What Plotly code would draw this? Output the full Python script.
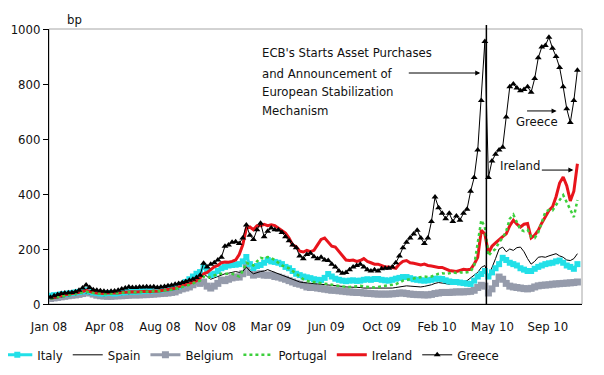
import pandas as pd
import plotly.graph_objects as go

dates = pd.date_range("2008-01-04", periods=149, freq="7D")

greece = [25, 30, 35, 38, 40, 41, 42, 45, 50, 58,
          69, 60, 52, 50, 48, 46, 45, 46, 47, 50,
          55, 58, 62, 60, 60, 62, 62, 63, 62, 63,
          60, 62, 64, 66, 68, 72, 75, 78, 82, 86,
          90, 96, 105, 148, 135, 145, 150, 160, 170, 210,
          215, 225, 226, 220, 240, 287, 250, 235, 270, 294,
          245, 265, 276, 270, 269, 260, 245, 230, 215, 205,
          175, 165, 180, 185, 172, 165, 170, 160, 158, 145,
          135, 120, 112, 115, 125, 135, 140, 145, 135, 125,
          120, 125, 120, 128, 130, 130, 135, 150, 175, 205,
          225, 240, 255, 268, 240, 220, 240, 300, 389, 350,
          330, 310, 330, 300, 320, 305, 330, 345, 410, 460,
          560, 740, 955, 460, 520, 545, 560, 570, 680, 790,
          800, 785, 775, 780, 790, 770, 820, 895, 935, 940,
          970, 930, 900, 860, 790, 710, 660, 740, 850]

ireland = [22, 25, 28, 30, 33, 35, 38, 40, 42, 45,
           50, 45, 42, 40, 38, 38, 40, 40, 38, 40,
           42, 43, 45, 45, 44, 45, 46, 46, 45, 47,
           46, 48, 50, 52, 54, 57, 62, 66, 70, 75,
           80, 85, 95, 110, 115, 125, 135, 140, 150, 153,
           152, 155, 160, 180, 215, 275, 280, 270, 285, 285,
           290, 285, 288, 285, 275, 265, 258, 240, 215, 208,
           192, 189, 195, 190, 195, 215, 235, 240, 225, 210,
           207, 190, 175, 160, 158, 160, 155, 158, 165, 155,
           150, 145, 145, 140, 135, 135, 133, 130, 145, 155,
           158, 150, 148, 145, 142, 145, 140, 138, 135, 133,
           133, 128, 122, 120, 118, 122, 126, 125, 126, 145,
           170, 268, 255, 185, 210, 222, 235, 245, 255, 285,
           305, 290, 280, 290, 293, 240, 250, 268, 295, 317,
           340, 353, 390, 440, 462, 430, 375, 410, 510]

portugal = [20, 22, 25, 27, 30, 33, 35, 38, 40, 42,
            45, 42, 40, 38, 36, 36, 37, 38, 38, 40,
            40, 42, 44, 44, 43, 44, 45, 45, 45, 46,
            46, 47, 48, 50, 52, 55, 58, 62, 66, 70,
            75, 80, 85, 100, 95, 100, 105, 108, 110, 110,
            112, 110, 105, 100, 120, 150, 145, 140, 155, 168,
            165, 171, 168, 160, 150, 140, 135, 130, 120, 110,
            100, 90, 85, 80, 80, 78, 75, 72, 72, 70,
            68, 66, 64, 62, 62, 63, 65, 66, 64, 62,
            60, 60, 62, 64, 65, 66, 68, 72, 78, 85,
            88, 90, 92, 95, 98, 100, 98, 100, 105, 110,
            112, 110, 112, 115, 113, 115, 113, 115, 118, 140,
            230, 305, 280, 175, 190, 200, 225, 240, 265, 310,
            325, 300, 270, 265, 270, 245, 240, 260, 300, 335,
            342, 340, 360, 380, 396, 370, 342, 316, 378]

italy = [30, 32, 33, 35, 36, 38, 40, 42, 44, 46,
         50, 45, 42, 40, 38, 38, 40, 40, 38, 40,
         42, 43, 45, 44, 45, 46, 47, 48, 48, 50,
         50, 52, 55, 57, 60, 62, 65, 70, 80, 90,
         100, 110, 116, 135, 120, 105, 110, 120, 130, 135,
         140, 142, 143, 145, 155, 171, 145, 131, 138, 142,
         150, 160, 155, 153, 150, 145, 135, 130, 120, 110,
         105, 100, 97, 94, 90, 88, 87, 95, 109, 100,
         92, 88, 85, 83, 85, 86, 84, 85, 88, 90,
         88, 91, 91, 88, 86, 85, 88, 92, 95, 98,
         98, 94, 90, 88, 86, 85, 86, 88, 92, 92,
         91, 86, 82, 80, 80, 78, 76, 74, 73, 85,
         100, 109, 120, 100, 115, 130, 145, 168, 160, 150,
         145, 140, 130, 125, 120, 120, 128, 135, 140, 145,
         148, 150, 155, 158, 150, 140, 135, 128, 145]

spain = [18, 20, 22, 24, 26, 28, 30, 32, 34, 36,
         40, 36, 34, 32, 30, 30, 32, 32, 30, 32,
         34, 35, 36, 36, 37, 38, 38, 40, 40, 42,
         42, 44, 46, 48, 50, 52, 55, 60, 68, 75,
         85, 90, 95, 110, 100, 90, 95, 100, 105, 110,
         112, 115, 118, 115, 118, 135, 120, 110, 115, 118,
         120, 125, 120, 115, 110, 105, 100, 95, 90, 85,
         80, 78, 76, 75, 74, 73, 72, 70, 70, 68,
         66, 65, 64, 62, 62, 60, 60, 60, 58, 58,
         57, 57, 58, 58, 58, 57, 58, 60, 62, 64,
         66, 65, 64, 63, 62, 64, 66, 70, 75, 78,
         76, 74, 72, 73, 75, 78, 80, 85, 95, 105,
         115, 133, 140, 100, 130, 165, 200, 207, 190, 200,
         195, 205, 207, 190, 165, 145, 155, 170, 172, 170,
         175, 178, 183, 175, 170, 160, 158, 165, 183]

belgium = [20, 22, 24, 26, 28, 30, 32, 33, 35, 38,
           44, 40, 36, 32, 30, 29, 28, 28, 29, 30,
           30, 31, 32, 33, 33, 33, 34, 34, 35, 36,
           37, 38, 39, 40, 42, 44, 50, 55, 58, 62,
           70, 80, 75, 80, 65, 58, 65, 75, 87, 85,
           90, 95, 98, 98, 110, 142, 115, 105, 108, 110,
           105, 105, 105, 100, 98, 94, 90, 85, 80, 75,
           72, 68, 62, 60, 60, 58, 56, 54, 52, 50,
           50, 48, 47, 45, 44, 43, 42, 42, 40, 39,
           38, 37, 36, 36, 36, 36, 37, 38, 40, 40,
           38, 36, 35, 34, 34, 33, 33, 35, 38, 40,
           42, 42, 42, 43, 44, 44, 44, 45, 46, 50,
           60, 68, 65, 40, 55, 75, 98, 90, 75, 65,
           62, 60, 58, 56, 55, 57, 62, 66, 68, 69,
           70, 72, 73, 74, 75, 76, 77, 78, 80]

tick_dates = ["2008-01-01", "2008-04-19", "2008-08-06", "2008-11-23", "2009-03-12",
              "2009-06-29", "2009-10-16", "2010-02-02", "2010-05-22", "2010-09-08"]
tick_labels = ["Jan 08", "Apr 08", "Aug 08", "Nov 08", "Mar 09",
               "Jun 09", "Oct 09", "Feb 10", "May 10", "Sep 10"]
y_ticks = [0, 200, 400, 600, 800, 1000]

ecb_lines = ["ECB's Starts Asset Purchases", "and Announcement of",
             "European Stabilization", "Mechanism"]
ecb_line_y = [913, 840, 771, 702]

FONT = "Liberation Sans Narrow, DejaVu Sans Condensed, Arial Narrow, sans-serif"
FS = 13

fig = go.Figure()
fig.add_trace(go.Scatter(x=dates, y=belgium, name="Belgium", mode="lines+markers",
                         line=dict(color="#959bab", width=3),
                         marker=dict(symbol="square", size=7, color="#959bab"), legendrank=3))
fig.add_trace(go.Scatter(x=dates, y=spain, name="Spain", mode="lines",
                         line=dict(color="#000000", width=1), legendrank=2))
fig.add_trace(go.Scatter(x=dates, y=italy, name="Italy", mode="lines+markers",
                         line=dict(color="#22e0e8", width=3),
                         marker=dict(symbol="square", size=6, color="#22e0e8"), legendrank=1))
fig.add_trace(go.Scatter(x=dates, y=ireland, name="Ireland", mode="lines",
                         line=dict(color="#e8141c", width=3), legendrank=5))
fig.add_trace(go.Scatter(x=dates, y=portugal, name="Portugal", mode="lines",
                         line=dict(color="#3ccf3c", width=2.5, dash="dot"), legendrank=4))
fig.add_trace(go.Scatter(x=dates, y=greece, name="Greece", mode="lines+markers",
                         line=dict(color="#000000", width=1),
                         marker=dict(symbol="triangle-up", size=6, color="#000000"), legendrank=6))

annotations = [
    dict(text="bp", xref="paper", yref="paper", x=0.03, y=1.0, xanchor="left",
         yanchor="bottom", showarrow=False, font=dict(size=FS)),
]
for txt, yy in zip(ecb_lines, ecb_line_y):
    annotations.append(dict(text=txt, xref="x", yref="y", x="2009-02-19", y=yy,
                            xanchor="left", yanchor="middle", showarrow=False,
                            font=dict(size=FS)))
annotations += [
    dict(text="", xref="x", yref="y", x="2010-04-28", y=840, ax=-73, ay=0,
         showarrow=True, arrowhead=2, arrowsize=1, arrowwidth=1, arrowcolor="black"),
    dict(text="Greece", xref="x", yref="y", x="2010-08-17", y=662, showarrow=False,
         font=dict(size=FS)),
    dict(text="", xref="x", yref="y", x="2010-09-25", y=702, ax=-31, ay=0,
         showarrow=True, arrowhead=2, arrowsize=1, arrowwidth=1, arrowcolor="black"),
    dict(text="Ireland", xref="x", yref="y", x="2010-07-16", y=505, showarrow=False,
         font=dict(size=FS)),
    dict(text="", xref="x", yref="y", x="2010-10-28", y=487, ax=-33, ay=0,
         showarrow=True, arrowhead=2, arrowsize=1, arrowwidth=1, arrowcolor="black"),
]

fig.update_layout(
    width=596, height=367,
    margin=dict(l=41, r=22, t=21, b=71, autoexpand=False),
    paper_bgcolor="white", plot_bgcolor="white",
    font=dict(family=FONT, size=FS, color="#111111"),
    showlegend=True,
    legend=dict(orientation="h", x=-0.097, y=-0.185, xanchor="left", yanchor="middle",
                font=dict(size=FS), bgcolor="rgba(0,0,0,0)"),
    xaxis=dict(type="date", range=["2008-01-01", "2010-11-14"], tickvals=tick_dates,
               ticktext=tick_labels, showgrid=False, zeroline=False, showline=True,
               linecolor="black", linewidth=1, ticks="", ticklabelstandoff=10,
               tickfont=dict(size=FS), automargin=False),
    yaxis=dict(range=[0, 1000], tickvals=y_ticks, showgrid=False, zeroline=False,
               showline=True, linecolor="black", linewidth=1, ticks="outside",
               ticklen=5, tickcolor="black", tickfont=dict(size=FS), automargin=False),
    shapes=[
        dict(type="rect", xref="paper", yref="paper", x0=0, x1=1, y0=0, y1=1,
             line=dict(color="#a6a6a6", width=1), layer="below"),
        dict(type="line", xref="x", yref="paper", x0="2010-05-10", x1="2010-05-10",
             y0=0, y1=1.015, line=dict(color="black", width=1.5)),
    ],
    annotations=annotations,
)

fig.write_html("out.html")
